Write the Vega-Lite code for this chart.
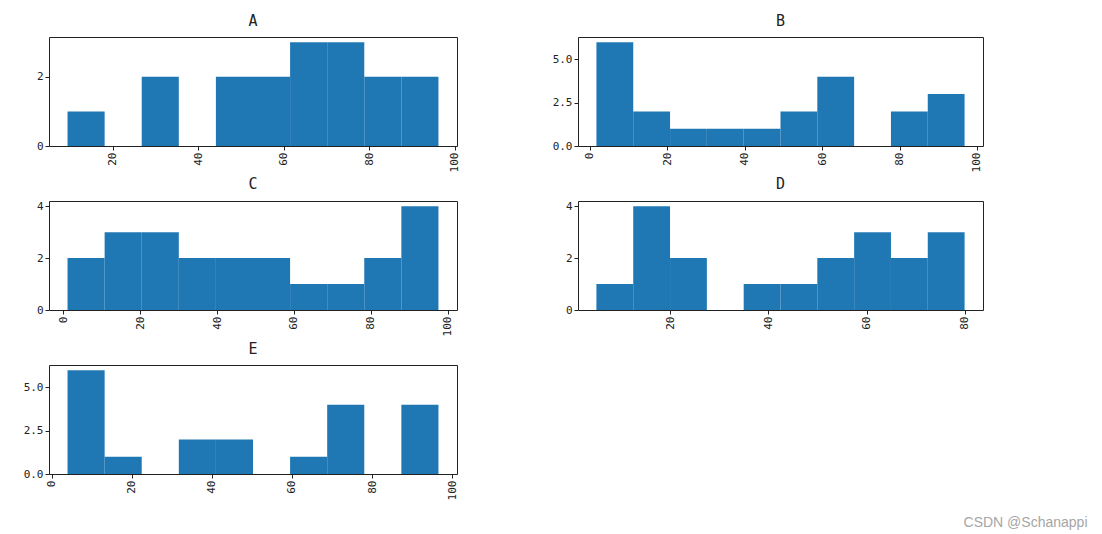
{
  "$schema": "https://vega.github.io/schema/vega-lite/v6.json",
  "padding": {"left": 22, "top": 13, "right": 5, "bottom": 5},
  "background": "white",
  "datasets": {
    "h": [
      {"col": "A", "bin_start": 9.4, "bin_end": 18.08, "count": 1},
      {"col": "A", "bin_start": 18.08, "bin_end": 26.76, "count": 0},
      {"col": "A", "bin_start": 26.76, "bin_end": 35.44, "count": 2},
      {"col": "A", "bin_start": 35.44, "bin_end": 44.12, "count": 0},
      {"col": "A", "bin_start": 44.12, "bin_end": 52.8, "count": 2},
      {"col": "A", "bin_start": 52.8, "bin_end": 61.48, "count": 2},
      {"col": "A", "bin_start": 61.48, "bin_end": 70.16, "count": 3},
      {"col": "A", "bin_start": 70.16, "bin_end": 78.84, "count": 3},
      {"col": "A", "bin_start": 78.84, "bin_end": 87.52, "count": 2},
      {"col": "A", "bin_start": 87.52, "bin_end": 96.2, "count": 2},
      {"col": "B", "bin_start": 1.7, "bin_end": 11.21, "count": 6},
      {"col": "B", "bin_start": 11.21, "bin_end": 20.72, "count": 2},
      {"col": "B", "bin_start": 20.72, "bin_end": 30.23, "count": 1},
      {"col": "B", "bin_start": 30.23, "bin_end": 39.74, "count": 1},
      {"col": "B", "bin_start": 39.74, "bin_end": 49.25, "count": 1},
      {"col": "B", "bin_start": 49.25, "bin_end": 58.76, "count": 2},
      {"col": "B", "bin_start": 58.76, "bin_end": 68.27, "count": 4},
      {"col": "B", "bin_start": 68.27, "bin_end": 77.78, "count": 0},
      {"col": "B", "bin_start": 77.78, "bin_end": 87.29, "count": 2},
      {"col": "B", "bin_start": 87.29, "bin_end": 96.8, "count": 3},
      {"col": "C", "bin_start": 1.1, "bin_end": 10.75, "count": 2},
      {"col": "C", "bin_start": 10.75, "bin_end": 20.4, "count": 3},
      {"col": "C", "bin_start": 20.4, "bin_end": 30.05, "count": 3},
      {"col": "C", "bin_start": 30.05, "bin_end": 39.7, "count": 2},
      {"col": "C", "bin_start": 39.7, "bin_end": 49.35, "count": 2},
      {"col": "C", "bin_start": 49.35, "bin_end": 59.0, "count": 2},
      {"col": "C", "bin_start": 59.0, "bin_end": 68.65, "count": 1},
      {"col": "C", "bin_start": 68.65, "bin_end": 78.3, "count": 1},
      {"col": "C", "bin_start": 78.3, "bin_end": 87.95, "count": 2},
      {"col": "C", "bin_start": 87.95, "bin_end": 97.6, "count": 4},
      {"col": "D", "bin_start": 4.9, "bin_end": 12.41, "count": 1},
      {"col": "D", "bin_start": 12.41, "bin_end": 19.92, "count": 4},
      {"col": "D", "bin_start": 19.92, "bin_end": 27.43, "count": 2},
      {"col": "D", "bin_start": 27.43, "bin_end": 34.94, "count": 0},
      {"col": "D", "bin_start": 34.94, "bin_end": 42.45, "count": 1},
      {"col": "D", "bin_start": 42.45, "bin_end": 49.96, "count": 1},
      {"col": "D", "bin_start": 49.96, "bin_end": 57.47, "count": 2},
      {"col": "D", "bin_start": 57.47, "bin_end": 64.98, "count": 3},
      {"col": "D", "bin_start": 64.98, "bin_end": 72.49, "count": 2},
      {"col": "D", "bin_start": 72.49, "bin_end": 80.0, "count": 3},
      {"col": "E", "bin_start": 3.95, "bin_end": 13.215, "count": 6},
      {"col": "E", "bin_start": 13.215, "bin_end": 22.48, "count": 1},
      {"col": "E", "bin_start": 22.48, "bin_end": 31.745, "count": 0},
      {"col": "E", "bin_start": 31.745, "bin_end": 41.01, "count": 2},
      {"col": "E", "bin_start": 41.01, "bin_end": 50.275, "count": 2},
      {"col": "E", "bin_start": 50.275, "bin_end": 59.54, "count": 0},
      {"col": "E", "bin_start": 59.54, "bin_end": 68.805, "count": 1},
      {"col": "E", "bin_start": 68.805, "bin_end": 78.07, "count": 4},
      {"col": "E", "bin_start": 78.07, "bin_end": 87.335, "count": 0},
      {"col": "E", "bin_start": 87.335, "bin_end": 96.6, "count": 4}
    ]
  },
  "data": {"name": "h"},
  "title": {
    "text": "CSDN @Schanappi",
    "orient": "bottom",
    "anchor": "end",
    "font": "Liberation Sans",
    "fontSize": 14,
    "fontWeight": "normal",
    "color": "#a6a6a6",
    "offset": 16,
    "dx": 104
  },
  "columns": 2,
  "spacing": {"row": 55, "column": 121},
  "bounds": "flush",
  "config": {
    "view": {"stroke": "#222222", "strokeWidth": 1},
    "font": "DejaVu Sans Mono",
    "axis": {
      "domain": false,
      "grid": false,
      "ticks": true,
      "tickColor": "#222222",
      "tickSize": 4,
      "tickWidth": 1,
      "labelFont": "DejaVu Sans Mono",
      "labelFontSize": 11,
      "labelColor": "#222222",
      "labelPadding": 2,
      "title": null
    },
    "title": {"font": "DejaVu Sans Mono", "fontSize": 15, "fontWeight": "normal", "color": "#222222", "offset": 8},
    "bar": {"color": "#1f77b4", "strokeWidth": 0}
  },
  "concat": [
    {
      "title": "A",
      "width": 408, "height": 109,
      "transform": [{"filter": "datum.col === 'A'"}],
      "mark": "bar",
      "encoding": {
        "x": {"field": "bin_start", "type": "quantitative", "scale": {"domain": [5.06, 100.54], "nice": false, "zero": false},
              "axis": {"values": [20, 40, 60, 80, 100], "labelAngle": 270, "labelAlign": "right", "labelBaseline": "middle"}},
        "x2": {"field": "bin_end"},
        "y": {"field": "count", "type": "quantitative", "scale": {"domain": [0, 3.15], "nice": false},
              "axis": {"values": [0, 2], "format": "d"}},
        "y2": {"datum": 0}
      }
    },
    {
      "title": "B",
      "width": 405, "height": 109,
      "transform": [{"filter": "datum.col === 'B'"}],
      "mark": "bar",
      "encoding": {
        "x": {"field": "bin_start", "type": "quantitative", "scale": {"domain": [-3.06, 101.56], "nice": false, "zero": false},
              "axis": {"values": [0, 20, 40, 60, 80, 100], "labelAngle": 270, "labelAlign": "right", "labelBaseline": "middle"}},
        "x2": {"field": "bin_end"},
        "y": {"field": "count", "type": "quantitative", "scale": {"domain": [0, 6.3], "nice": false},
              "axis": {"values": [0, 2.5, 5], "format": ".1f"}},
        "y2": {"datum": 0}
      }
    },
    {
      "title": "C",
      "width": 408, "height": 109,
      "transform": [{"filter": "datum.col === 'C'"}],
      "mark": "bar",
      "encoding": {
        "x": {"field": "bin_start", "type": "quantitative", "scale": {"domain": [-3.725, 102.425], "nice": false, "zero": false},
              "axis": {"values": [0, 20, 40, 60, 80, 100], "labelAngle": 270, "labelAlign": "right", "labelBaseline": "middle"}},
        "x2": {"field": "bin_end"},
        "y": {"field": "count", "type": "quantitative", "scale": {"domain": [0, 4.2], "nice": false},
              "axis": {"values": [0, 2, 4], "format": "d"}},
        "y2": {"datum": 0}
      }
    },
    {
      "title": "D",
      "width": 405, "height": 109,
      "transform": [{"filter": "datum.col === 'D'"}],
      "mark": "bar",
      "encoding": {
        "x": {"field": "bin_start", "type": "quantitative", "scale": {"domain": [1.145, 83.755], "nice": false, "zero": false},
              "axis": {"values": [20, 40, 60, 80], "labelAngle": 270, "labelAlign": "right", "labelBaseline": "middle"}},
        "x2": {"field": "bin_end"},
        "y": {"field": "count", "type": "quantitative", "scale": {"domain": [0, 4.2], "nice": false},
              "axis": {"values": [0, 2, 4], "format": "d"}},
        "y2": {"datum": 0}
      }
    },
    {
      "title": "E",
      "width": 408, "height": 109,
      "transform": [{"filter": "datum.col === 'E'"}],
      "mark": "bar",
      "encoding": {
        "x": {"field": "bin_start", "type": "quantitative", "scale": {"domain": [-0.68, 101.23], "nice": false, "zero": false},
              "axis": {"values": [0, 20, 40, 60, 80, 100], "labelAngle": 270, "labelAlign": "right", "labelBaseline": "middle"}},
        "x2": {"field": "bin_end"},
        "y": {"field": "count", "type": "quantitative", "scale": {"domain": [0, 6.3], "nice": false},
              "axis": {"values": [0, 2.5, 5], "format": ".1f"}},
        "y2": {"datum": 0}
      }
    }
  ]
}
